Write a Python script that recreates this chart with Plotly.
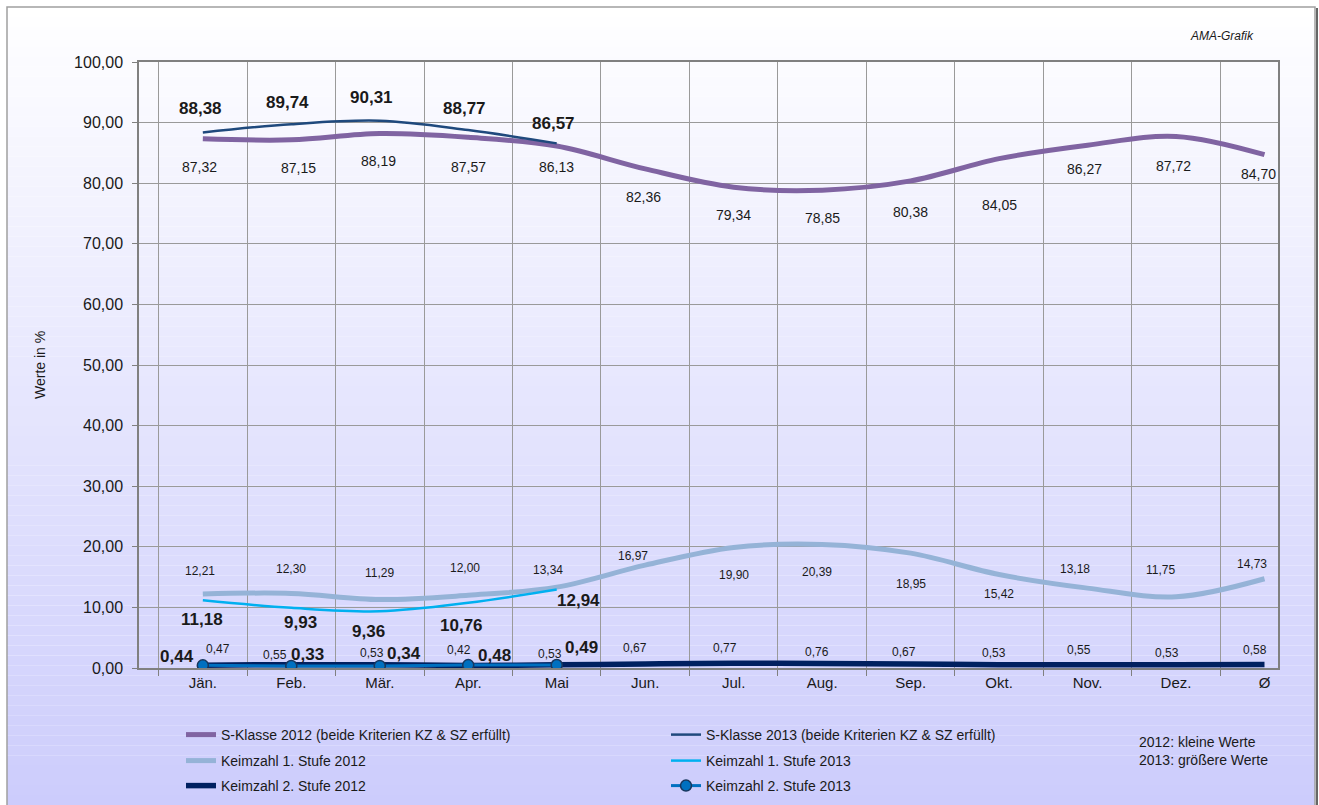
import plotly.graph_objects as go

# ---- Daten ----
MONATE = ["Jän.", "Feb.", "Mär.", "Apr.", "Mai", "Jun.", "Jul.", "Aug.",
          "Sep.", "Okt.", "Nov.", "Dez.", "Ø"]

S_KLASSE_2012 = [87.32, 87.15, 88.19, 87.57, 86.13, 82.36, 79.34, 78.85,
                 80.38, 84.05, 86.27, 87.72, 84.70]
S_KLASSE_2013 = [88.38, 89.74, 90.31, 88.77, 86.57]
KZ1_2012 = [12.21, 12.30, 11.29, 12.00, 13.34, 16.97, 19.90, 20.39,
            18.95, 15.42, 13.18, 11.75, 14.73]
KZ1_2013 = [11.18, 9.93, 9.36, 10.76, 12.94]
KZ2_2012 = [0.47, 0.55, 0.53, 0.42, 0.53, 0.67, 0.77, 0.76,
            0.67, 0.53, 0.55, 0.53, 0.58]
KZ2_2013 = [0.44, 0.33, 0.34, 0.48, 0.49]

# Farben
LILA = "#8064A2"
DUNKELBLAU = "#1F497D"
HELLBLAU = "#95B3D7"
CYAN = "#00B0F0"
NAVY = "#002060"
BLAU = "#0070C0"
GITTER = "#9A9A9A"
TXT = "#1a1a1a"
FONT = "Liberation Sans, Arial, sans-serif"

# Etiketten-Versatz (px), wie im Original manuell platziert
S12_DX = [-3, 7, -1, 0, 0, -2, 0, 0, 0, 0, -3, -3, -6]
S12_DY = [-28, -28, -27, -30, -21, -28, -28, -28, -31, -46, -24, -30, -19]
S13_DX = [-2, -4, -8, -4, -3]
S13_DY = [24, 22, 23, 22, 20]
K1_12_DX = [-3, 0, 0, -3, -9, -12, 0, -5, 0, 0, -13, -16, -13]
K1_12_DY = [23, 24, 27, 27, 17, 9, -28, -28, -31, -19, 19, 27, 15]
K1_13_DX = [-1, 9, -11, -7, 22]
K1_13_DY = [-19, -15, -20, -23, -11]
K2_12_DX = [15, -16, -8, -9, -7, -10, -9, -5, -7, -5, -9, -9, -10]
K2_12_DY = [16, 10, 12, 15, 11, 16, 15, 11, 12, 12, 15, 12, 14]
K2_13_DX = [-26, 16, 24, 26, 25]
K2_13_DY = [9, 12, 12, 10, 18]

W, H = 1319, 805
L, R, T, B = 139, 41, 62, 137
PW, PH = W - L - R, H - T - B


def px_x(x):
    return (x - L) / PW


def px_y(y):
    return (H - B - y) / PH


def fmt(v):
    return f"{v:.2f}".replace(".", ",")


fig = go.Figure()

fig.add_trace(go.Scatter(
    x=MONATE, y=S_KLASSE_2012, mode="lines", line_shape="spline",
    line=dict(color=LILA, width=5),
    name="S-Klasse 2012 (beide Kriterien KZ & SZ erfüllt)", legend="legend"))
fig.add_trace(go.Scatter(
    x=MONATE[:len(S_KLASSE_2013)], y=S_KLASSE_2013, mode="lines", line_shape="spline",
    line=dict(color=DUNKELBLAU, width=2.5),
    name="S-Klasse 2013 (beide Kriterien KZ & SZ erfüllt)", legend="legend"))
fig.add_trace(go.Scatter(
    x=MONATE, y=KZ1_2012, mode="lines", line_shape="spline",
    line=dict(color=HELLBLAU, width=5),
    name="Keimzahl 1. Stufe 2012", legend="legend2"))
fig.add_trace(go.Scatter(
    x=MONATE[:len(KZ1_2013)], y=KZ1_2013, mode="lines", line_shape="spline",
    line=dict(color=CYAN, width=2.5),
    name="Keimzahl 1. Stufe 2013", legend="legend2"))
fig.add_trace(go.Scatter(
    x=MONATE, y=KZ2_2012, mode="lines", line_shape="spline",
    line=dict(color=NAVY, width=5.5),
    name="Keimzahl 2. Stufe 2012", legend="legend3"))
fig.add_trace(go.Scatter(
    x=MONATE[:len(KZ2_2013)], y=KZ2_2013, mode="lines+markers", line_shape="spline",
    line=dict(color=BLAU, width=3),
    marker=dict(size=11, color=BLAU, line=dict(color="#17375E", width=1.5)),
    name="Keimzahl 2. Stufe 2013", legend="legend3"))

# Datenbeschriftungen
anns = []


def labels(werte, dx, dy, size, bold):
    for i, v in enumerate(werte):
        t = fmt(v)
        anns.append(dict(
            x=MONATE[i], y=v, xref="x", yref="y", text=f"<b>{t}</b>" if bold else t,
            showarrow=False, xshift=dx[i], yshift=dy[i],
            font=dict(size=size, color=TXT, family=FONT)))


labels(S_KLASSE_2012, S12_DX, S12_DY, 14, False)
labels(S_KLASSE_2013, S13_DX, S13_DY, 17, True)
labels(KZ1_2012, K1_12_DX, K1_12_DY, 12, False)
labels(KZ1_2013, K1_13_DX, K1_13_DY, 17, True)
labels(KZ2_2012, K2_12_DX, K2_12_DY, 12, False)
labels(KZ2_2013, K2_13_DX, K2_13_DY, 17, True)

anns.append(dict(x=px_x(40), y=px_y(365), xref="paper", yref="paper",
                 xanchor="center", yanchor="middle",
                 text="Werte in %", textangle=-90, showarrow=False,
                 font=dict(size=14, color=TXT, family=FONT)))
anns.append(dict(x=px_x(1256), y=px_y(27), xref="paper", yref="paper",
                 xanchor="right", text="<i>AMA-Grafik</i>", showarrow=False,
                 font=dict(size=12, color=TXT, family=FONT)))
anns.append(dict(x=px_x(1137), y=px_y(770), xref="paper", yref="paper",
                 xanchor="left", align="left", showarrow=False,
                 text="2012: kleine Werte<br>2013: größere Werte",
                 font=dict(size=14, color=TXT, family=FONT)))

# Hintergrund: Verlauf weiß -> lavendel im Rahmen
shapes = []
top, bot, n = 7, 805, 80
for k in range(n):
    y0 = top + (bot - top) * k / n
    y1 = top + (bot - top) * (k + 1) / n
    f = (k + 0.5) / n
    r = round(255 - 51 * f)
    b = round(255 - 3 * f)
    shapes.append(dict(type="rect", xref="paper", yref="paper", layer="below",
                       x0=px_x(7), x1=px_x(1315), y0=px_y(y1), y1=px_y(y0),
                       fillcolor=f"rgb({r},{r},{b})", line=dict(width=0)))
shapes.append(dict(type="rect", xref="paper", yref="paper", layer="below",
                   x0=px_x(7), x1=px_x(1315), y0=px_y(806), y1=px_y(7),
                   line=dict(color="#A0A0A0", width=1.5)))
shapes.append(dict(type="line", xref="paper", yref="paper", layer="below",
                   x0=px_x(1317), x1=px_x(1317), y0=px_y(806), y1=px_y(8),
                   line=dict(color="#333333", width=1.5)))

leg = dict(orientation="h", x=px_x(181), xanchor="left", yanchor="middle",
           bgcolor="rgba(0,0,0,0)", entrywidth=440,
           font=dict(size=14, color=TXT, family=FONT))

fig.update_layout(
    width=W, height=H,
    margin=dict(l=L, r=R, t=T, b=B, autoexpand=False),
    paper_bgcolor="white", plot_bgcolor="rgba(0,0,0,0)",
    font=dict(family=FONT, color=TXT),
    separators=",.",
    showlegend=True,
    legend=dict(leg, y=px_y(735)),
    legend2=dict(leg, y=px_y(761)),
    legend3=dict(leg, y=px_y(786)),
    annotations=anns,
    shapes=shapes,
)
fig.update_xaxes(
    type="category", categoryorder="array", categoryarray=MONATE,
    tickson="boundaries", showgrid=True, gridcolor=GITTER, gridwidth=1,
    ticks="outside", ticklen=6, tickcolor="#808080",
    showline=True, linecolor="#808080", linewidth=1.5, mirror=True,
    tickfont=dict(size=15, color=TXT, family=FONT),
)
fig.update_yaxes(
    range=[0, 100], dtick=10, tickformat=".2f",
    showgrid=True, gridcolor=GITTER, gridwidth=1, zeroline=False,
    ticks="outside", ticklen=5, tickcolor="#808080", ticklabelstandoff=6,
    showline=True, linecolor="#808080", linewidth=1.5, mirror=True,
    tickfont=dict(size=16, color=TXT, family=FONT),
)

fig.write_html("out.html", config={"displayModeBar": False},
               post_script="document.body.style.margin='0';"
                           "document.body.style.overflow='hidden';")
